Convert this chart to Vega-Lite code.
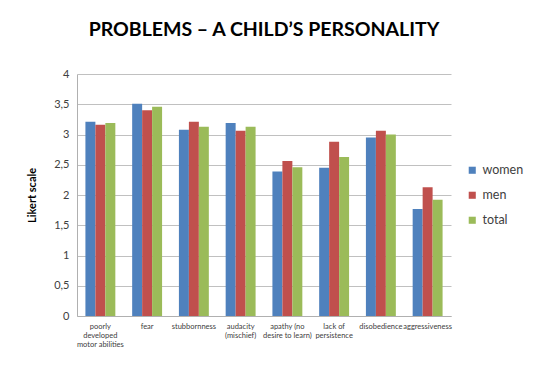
{
  "$schema": "https://vega.github.io/schema/vega-lite/v6.json",
  "width": 374,
  "height": 242,
  "autosize": {"type": "none"},
  "padding": {"left": 77, "top": 74, "right": 86, "bottom": 68},
  "background": "white",
  "title": {
    "text": "PROBLEMS – A CHILD’S PERSONALITY",
    "font": "Lato",
    "fontSize": 19.5,
    "fontWeight": "bold",
    "color": "black",
    "offset": 28,
    "anchor": "middle"
  },
  "data": {
    "values": [
      {"problem": "poorly developed motor abilities", "group": "women", "value": 3.21},
      {"problem": "poorly developed motor abilities", "group": "men", "value": 3.16},
      {"problem": "poorly developed motor abilities", "group": "total", "value": 3.19},
      {"problem": "fear", "group": "women", "value": 3.51},
      {"problem": "fear", "group": "men", "value": 3.40},
      {"problem": "fear", "group": "total", "value": 3.46},
      {"problem": "stubbornness", "group": "women", "value": 3.08},
      {"problem": "stubbornness", "group": "men", "value": 3.21},
      {"problem": "stubbornness", "group": "total", "value": 3.13},
      {"problem": "audacity (mischief)", "group": "women", "value": 3.19},
      {"problem": "audacity (mischief)", "group": "men", "value": 3.06},
      {"problem": "audacity (mischief)", "group": "total", "value": 3.13},
      {"problem": "apathy (no desire to learn)", "group": "women", "value": 2.39},
      {"problem": "apathy (no desire to learn)", "group": "men", "value": 2.56},
      {"problem": "apathy (no desire to learn)", "group": "total", "value": 2.46},
      {"problem": "lack of persistence", "group": "women", "value": 2.45},
      {"problem": "lack of persistence", "group": "men", "value": 2.88},
      {"problem": "lack of persistence", "group": "total", "value": 2.63},
      {"problem": "disobedience", "group": "women", "value": 2.95},
      {"problem": "disobedience", "group": "men", "value": 3.06},
      {"problem": "disobedience", "group": "total", "value": 3.0},
      {"problem": "aggressiveness", "group": "women", "value": 1.77},
      {"problem": "aggressiveness", "group": "men", "value": 2.13},
      {"problem": "aggressiveness", "group": "total", "value": 1.92}
    ]
  },
  "mark": {"type": "bar"},
  "encoding": {
    "x": {
      "field": "problem",
      "type": "nominal",
      "sort": null,
      "scale": {"paddingInner": 0.36, "paddingOuter": 0.18},
      "axis": {
        "title": null,
        "labelAngle": 0,
        "labelFont": "Lato",
        "labelFontSize": 7.5,
        "labelColor": "#404040",
        "labelPadding": 6,
        "labelLineHeight": 9,
        "labelLimit": 80,
        "ticks": false,
        "domainColor": "#b0b0b0",
        "labelExpr": "datum.value == 'poorly developed motor abilities' ? ['poorly', 'developed', 'motor abilities'] : datum.value == 'audacity (mischief)' ? ['audacity', '(mischief)'] : datum.value == 'apathy (no desire to learn)' ? ['apathy (no', 'desire to learn)'] : datum.value == 'lack of persistence' ? ['lack of', 'persistence'] : datum.label"
      }
    },
    "xOffset": {"field": "group", "type": "nominal", "sort": ["women", "men", "total"]},
    "y": {
      "field": "value",
      "type": "quantitative",
      "scale": {"domain": [0, 4]},
      "axis": {
        "title": "Likert scale",
        "titleFont": "Lato",
        "titleFontSize": 11,
        "titleFontWeight": "bold",
        "titleColor": "black",
        "titlePadding": 16,
        "values": [0, 0.5, 1, 1.5, 2, 2.5, 3, 3.5, 4],
        "labelExpr": "replace(format(datum.value, '~g'), '.', ',')",
        "labelFont": "Lato",
        "labelFontSize": 11,
        "labelColor": "#404040",
        "labelPadding": 8,
        "ticks": false,
        "grid": true,
        "gridColor": "#c0c0c0",
        "domainColor": "#b0b0b0"
      }
    },
    "color": {
      "field": "group",
      "type": "nominal",
      "sort": ["women", "men", "total"],
      "scale": {"domain": ["women", "men", "total"], "range": ["#4F81BD", "#C0504D", "#9BBB59"]},
      "legend": {
        "title": null,
        "orient": "none",
        "legendX": 389,
        "legendY": 90,
        "symbolType": "square",
        "symbolSize": 50,
        "labelFont": "Lato",
        "labelFontSize": 12.5,
        "labelColor": "#404040",
        "rowPadding": 12
      }
    }
  },
  "config": {
    "view": {"stroke": null}
  }
}
